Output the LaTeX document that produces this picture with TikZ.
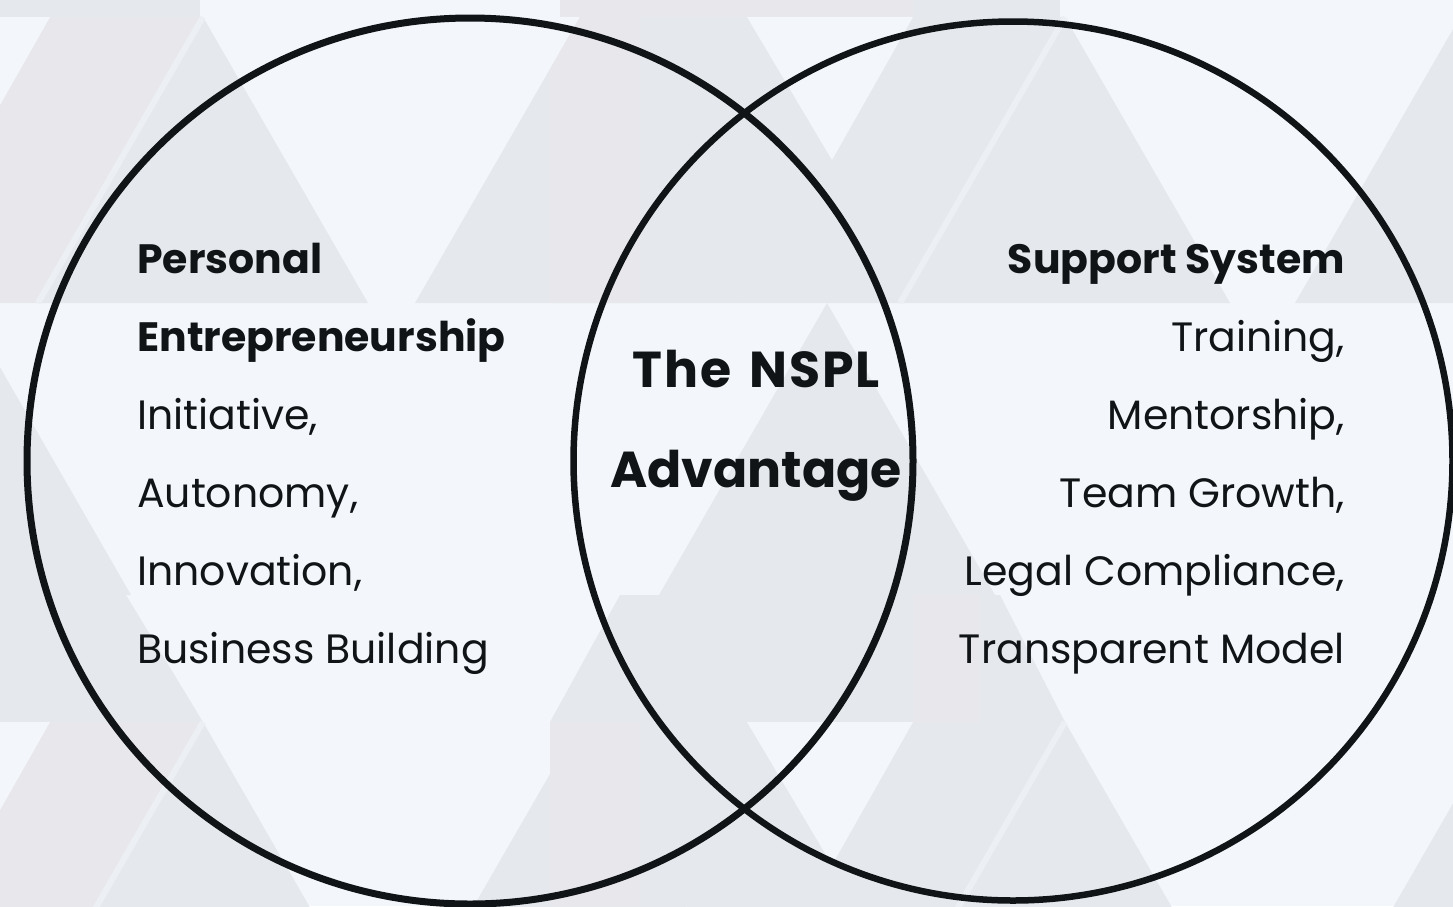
\documentclass[tikz,border=0pt]{standalone}
\usepackage{fontspec}
\setmainfont{Poppins}
\definecolor{paper}{HTML}{F3F7FB}
\definecolor{tileA}{HTML}{E5E9ED}
\definecolor{tileB}{HTML}{E8E7EB}
\definecolor{seam}{HTML}{ECF0F4}
\definecolor{ink}{HTML}{111416}
\begin{document}
\begin{tikzpicture}[x=1pt,y=-1pt,
  ring/.style={circle,draw=ink,inner sep=0pt,fill=none},
  body/.style={text=ink,inner sep=0pt,font=\fontsize{41}{41}\selectfont},
  head/.style={text=ink,inner sep=0pt,font=\bfseries\fontsize{41}{41}\selectfont},
  core/.style={text=ink,inner sep=0pt,font=\bfseries\fontsize{50.5}{50.5}\selectfont},
  seamline/.style={draw=seam,line width=6pt}]
\useasboundingbox (0,0) rectangle (1453,906);
\fill[paper] (0,0) rectangle (1453,906);

% triangle pattern in the background
\begin{scope}
\clip (0,0) rectangle (1453,906);
% top strip
\fill[tileA] (0,0) rectangle (200,17);
\fill[tileB] (560,0) rectangle (913,17);
\fill[tileA] (913,0) rectangle (1060,17);
% first band
\fill[tileB] (0,17) -- (203,17) -- (38,303) -- (0,303) -- cycle;
\fill[paper] (0,17) -- (50,17) -- (0,105) -- cycle;
\fill[tileA] (203,17) -- (368,303) -- (38,303) -- cycle;
\fill[tileA] (580,17) -- (1065,17) -- (900,303) -- (745,303) -- cycle;
\fill[tileA] (580,17) -- (745,303) -- (415,303) -- cycle;
\fill[tileB] (550,69) -- (580,17) -- (640,17) -- (640,303) -- (550,303) -- cycle;
\fill[paper] (747,17) -- (913,17) -- (832,160) -- cycle;
\fill[tileA] (1065,17) -- (1230,303) -- (900,303) -- cycle;
\fill[tileA] (1460,17) -- (1625,303) -- (1295,303) -- cycle;
\draw[seamline] (203,17) -- (38,303);
\draw[seamline] (1065,17) -- (900,303);
% second band
\fill[tileA] (827,303) -- (995,595) -- (659,595) -- cycle;
\fill[tileA] (-37,303) -- (131,595) -- (-205,595) -- cycle;
% third band
\fill[tileA] (0,595) -- (126,595) -- (203,722) -- (0,722) -- cycle;
\fill[tileA] (620,595) -- (1000,595) -- (1065,722) -- (550,722) -- cycle;
\fill[tileB] (913,595) -- (980,595) -- (980,722) -- (913,722) -- cycle;
% fourth band
\fill[tileB] (0,722) -- (203,722) -- (38,1008) -- (0,1008) -- cycle;
\fill[paper] (0,722) -- (50,722) -- (0,810) -- cycle;
\fill[tileA] (203,722) -- (368,1008) -- (38,1008) -- cycle;
\fill[tileA] (580,722) -- (1065,722) -- (900,1008) -- (745,1008) -- cycle;
\fill[tileA] (580,722) -- (745,1008) -- (415,1008) -- cycle;
\fill[tileB] (550,722) -- (640,722) -- (640,906) -- (550,906) -- cycle;
\fill[paper] (747,722) -- (913,722) -- (832,865) -- cycle;
\fill[tileA] (1065,722) -- (1230,1008) -- (900,1008) -- cycle;
\fill[tileA] (1500,722) -- (1665,1008) -- (1335,1008) -- cycle;
\draw[seamline] (203,722) -- (38,1008);
\draw[seamline] (1065,722) -- (900,1008);
\end{scope}

% the two overlapping circles
\node[ring,line width=7pt,minimum size=886pt] (left) at (470,461) {};
\node[ring,line width=6.5pt,minimum size=879pt] (right) at (1013,461) {};

% left column
\node[head,anchor=base west] (l1) at (137,273) {Personal};
\node[head,anchor=base west] (l2) at (137,351) {Entrepreneurship};
\node[body,anchor=base west] (l3) at (137,429) {Initiative,};
\node[body,anchor=base west] (l4) at (137,507) {Autonomy,};
\node[body,anchor=base west] (l5) at (137,585) {Innovation,};
\node[body,anchor=base west] (l6) at (137,663) {Business Building};

% right column
\node[head,anchor=base east] (r1) at (1345,273) {Support System};
\node[body,anchor=base east] (r2) at (1345,351) {Training,};
\node[body,anchor=base east] (r3) at (1345,429) {Mentorship,};
\node[body,anchor=base east] (r4) at (1345,507) {Team Growth,};
\node[body,anchor=base east] (r5) at (1345,585) {Legal Compliance,};
\node[body,anchor=base east] (r6) at (1345,663) {Transparent Model};

% overlap
\node[core,anchor=base] (c1) at (756,387) {\addfontfeature{LetterSpace=4}The\hspace{0.1em} NSPL};
\node[core,anchor=base] (c2) at (756,487) {Advantage};
\end{tikzpicture}
\end{document}
